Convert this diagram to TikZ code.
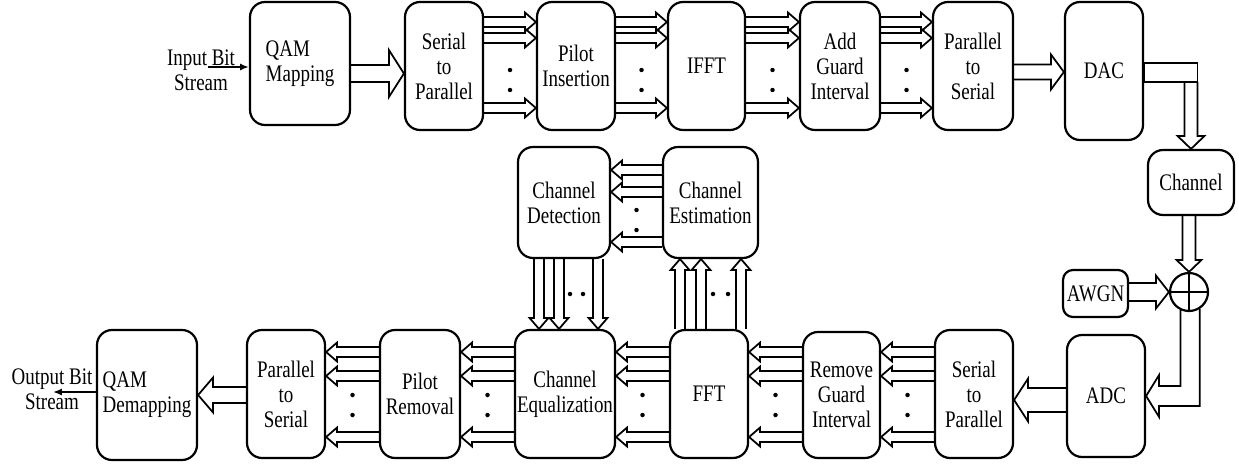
\documentclass[tikz,border=0pt]{standalone}
\usepackage{fontspec}
\setmainfont{Liberation Serif}[FakeStretch=0.8]
\usepackage{tikz}
\usetikzlibrary{calc}
\usetikzlibrary{arrows.meta}
\usetikzlibrary{positioning}

\newcommand{\fatarrow}[5]{%
  \path (#1) coordinate (fa-s) (#2) coordinate (fa-e);
  \path ($(fa-e)!#5!(fa-s)$) coordinate (fa-b);
  \draw[fat] ($(fa-s)!#3!90:(fa-e)$) -- ($(fa-b)!#3!90:(fa-e)$)
    -- ($(fa-b)!#4!90:(fa-e)$) -- (fa-e) -- ($(fa-b)!#4!-90:(fa-e)$)
    -- ($(fa-b)!#3!-90:(fa-e)$) -- ($(fa-s)!#3!-90:(fa-e)$);
}
\newcommand{\busarrow}[2]{\fatarrow{#1}{#2}{0.1cm}{0.19cm}{0.22cm}}

\begin{document}
\begin{tikzpicture}[x=0.02cm, y=-0.02cm,
  blk/.style={draw, line width=1.25pt, rounded corners=0.3cm, align=center, inner sep=1pt, font=\fontsize{13.5}{14.2}\selectfont},
  fat/.style={draw, line width=1pt, line join=miter},
  lbl/.style={align=center, inner sep=0pt, font=\fontsize{13.5}{14.2}\selectfont}]

      \useasboundingbox (0,0) rectangle (1239,466);

      \node[blk, align=left, minimum width=2cm, minimum height=2.46cm] (qam) at (300,63.5) {QAM\\Mapping};
      \node[blk, minimum width=1.56cm, minimum height=2.56cm] (sp1) at (444,66) {Serial\\to\\Parallel};
      \node[blk, minimum width=1.56cm, minimum height=2.56cm] (pins) at (576,66) {Pilot\\Insertion};
      \node[blk, minimum width=1.54cm, minimum height=2.56cm] (ifft) at (706.5,66) {IFFT};
      \node[blk, minimum width=1.6cm, minimum height=2.56cm] (agi) at (840,66) {Add\\Guard\\Interval};
      \node[blk, minimum width=1.6cm, minimum height=2.56cm] (ps1) at (973,66) {Parallel\\to\\Serial};
      \node[blk, minimum width=1.56cm, minimum height=2.76cm] (dac) at (1104,71) {DAC};
      \node[blk, minimum width=1.72cm, minimum height=1.3cm] (chan) at (1191,182.5) {Channel};
      \node[blk, rounded corners=0.2cm, minimum width=1.3cm, minimum height=0.94cm] (awgn) at (1095.5,293.5) {AWGN};
      \node[draw, circle, line width=1.25pt, minimum size=0.76cm, inner sep=0pt] (adder) at (1189,292) {};
      \node[blk, minimum width=1.56cm, minimum height=2.44cm] (adc) at (1106,396) {ADC};

      \node[blk, minimum width=1.56cm, minimum height=2.56cm] (sp2) at (974,394) {Serial\\to\\Parallel};
      \node[blk, minimum width=1.54cm, minimum height=2.52cm] (rgi) at (841.5,395) {Remove\\Guard\\Interval};
      \node[blk, minimum width=1.56cm, minimum height=2.56cm] (fft) at (709,394) {FFT};
      \node[blk, minimum width=2cm, minimum height=2.56cm] (ceq) at (565,394) {Channel\\Equalization};
      \node[blk, minimum width=1.6cm, minimum height=2.56cm] (prem) at (420,394) {Pilot\\Removal};
      \node[blk, minimum width=1.56cm, minimum height=2.56cm] (ps2) at (286,394) {Parallel\\to\\Serial};
      \node[blk, align=left, minimum width=2cm, minimum height=2.6cm] (qamd) at (147,395) {QAM\\Demapping};

      \node[blk, minimum width=1.84cm, minimum height=2.22cm] (cdet) at (564,202.5) {Channel\\Detection};
      \node[blk, minimum width=1.9cm, minimum height=2.22cm] (cest) at (710.5,202.5) {Channel\\Estimation};

      \node[lbl] (inp) at (201,70) {Input Bit\\Stream};
      \node[lbl] (outp) at (52,389) {Output Bit\\Stream};
      \coordinate (inpend) at (208,67);
      \coordinate (outend) at (53,392);

      \draw[line width=1pt, -{Latex[length=5pt,width=4pt]}] (inpend) -- (qam.west |- inpend);
      \draw[line width=1pt, -{Latex[length=5pt,width=4pt]}] (qamd.west |- outend) -- (outend);

      \fatarrow{qam.east |- 0,73.5}{sp1.west |- 0,73.5}{0.17cm}{0.47cm}{0.3cm}
      \fatarrow{ps1.east |- 0,72}{dac.west |- 0,72}{0.15cm}{0.35cm}{0.26cm}

      \foreach \a/\b in {sp1/pins, pins/ifft, ifft/agi, agi/ps1}{
        \foreach \y in {22, 38, 108}
          \busarrow{\a.east |- 0,\y}{\b.west |- 0,\y};
        \foreach \y in {70, 90}
          \fill ($(\a.east |- 0,\y)!0.5!(\b.west |- 0,\y)$) circle (0.045cm);
      }

      \draw[fat] (dac.east |- 0,63) rectangle ($(chan.north |- 0,82)+(0.13cm,0)$);
      \fatarrow{chan.north |- 0,82}{chan.north}{0.13cm}{0.27cm}{0.26cm}

      \fatarrow{adder.north |- chan.south}{adder.north}{0.13cm}{0.25cm}{0.24cm}
      \fatarrow{awgn.east |- adder.west}{adder.west}{0.18cm}{0.33cm}{0.26cm}
      \draw[line width=1.25pt] (adder.north) -- (adder.south);
      \draw[line width=1.25pt] (adder.west) -- (adder.east);
      \draw[fat] (adder.-115) |- ([xshift=0.26cm,yshift=0.2cm]adc.east) -- ++(0,0.22cm)
        -- (adc.east) -- ++(0.26cm,-0.42cm) -- ++(0,0.22cm) -| (adder.-58);

      \fatarrow{adc.west |- 0,400}{sp2.east |- 0,400}{0.24cm}{0.43cm}{0.28cm}

      \foreach \a/\b in {sp2/rgi, rgi/fft, fft/ceq, ceq/prem, prem/ps2}{
        \foreach \y in {352, 376, 437}
          \busarrow{\a.west |- 0,\y}{\b.east |- 0,\y};
        \foreach \y in {395, 415}
          \fill ($(\a.west |- 0,\y)!0.5!(\b.east |- 0,\y)$) circle (0.045cm);
      }

      \fatarrow{ps2.west |- 0,395}{qamd.east |- 0,395}{0.16cm}{0.35cm}{0.3cm}

      \foreach \y in {170, 192, 242}
        \busarrow{cest.west |- 0,\y}{cdet.east |- 0,\y};
      \foreach \y in {210, 230}
        \fill ($(cest.west |- 0,\y)!0.5!(cdet.east |- 0,\y)$) circle (0.045cm);

      \foreach \x in {539, 559, 598}
        \busarrow{cdet.south -| \x,0}{ceq.north -| \x,0};
      \foreach \x in {570, 583}
        \fill ($(cdet.south -| \x,0)!0.5!(ceq.north -| \x,0)$) circle (0.045cm);

      \foreach \x in {680, 701, 741}
        \busarrow{fft.north -| \x,0}{cest.south -| \x,0};
      \foreach \x in {713, 728}
        \fill ($(fft.north -| \x,0)!0.5!(cest.south -| \x,0)$) circle (0.045cm);

\end{tikzpicture}
\end{document}
